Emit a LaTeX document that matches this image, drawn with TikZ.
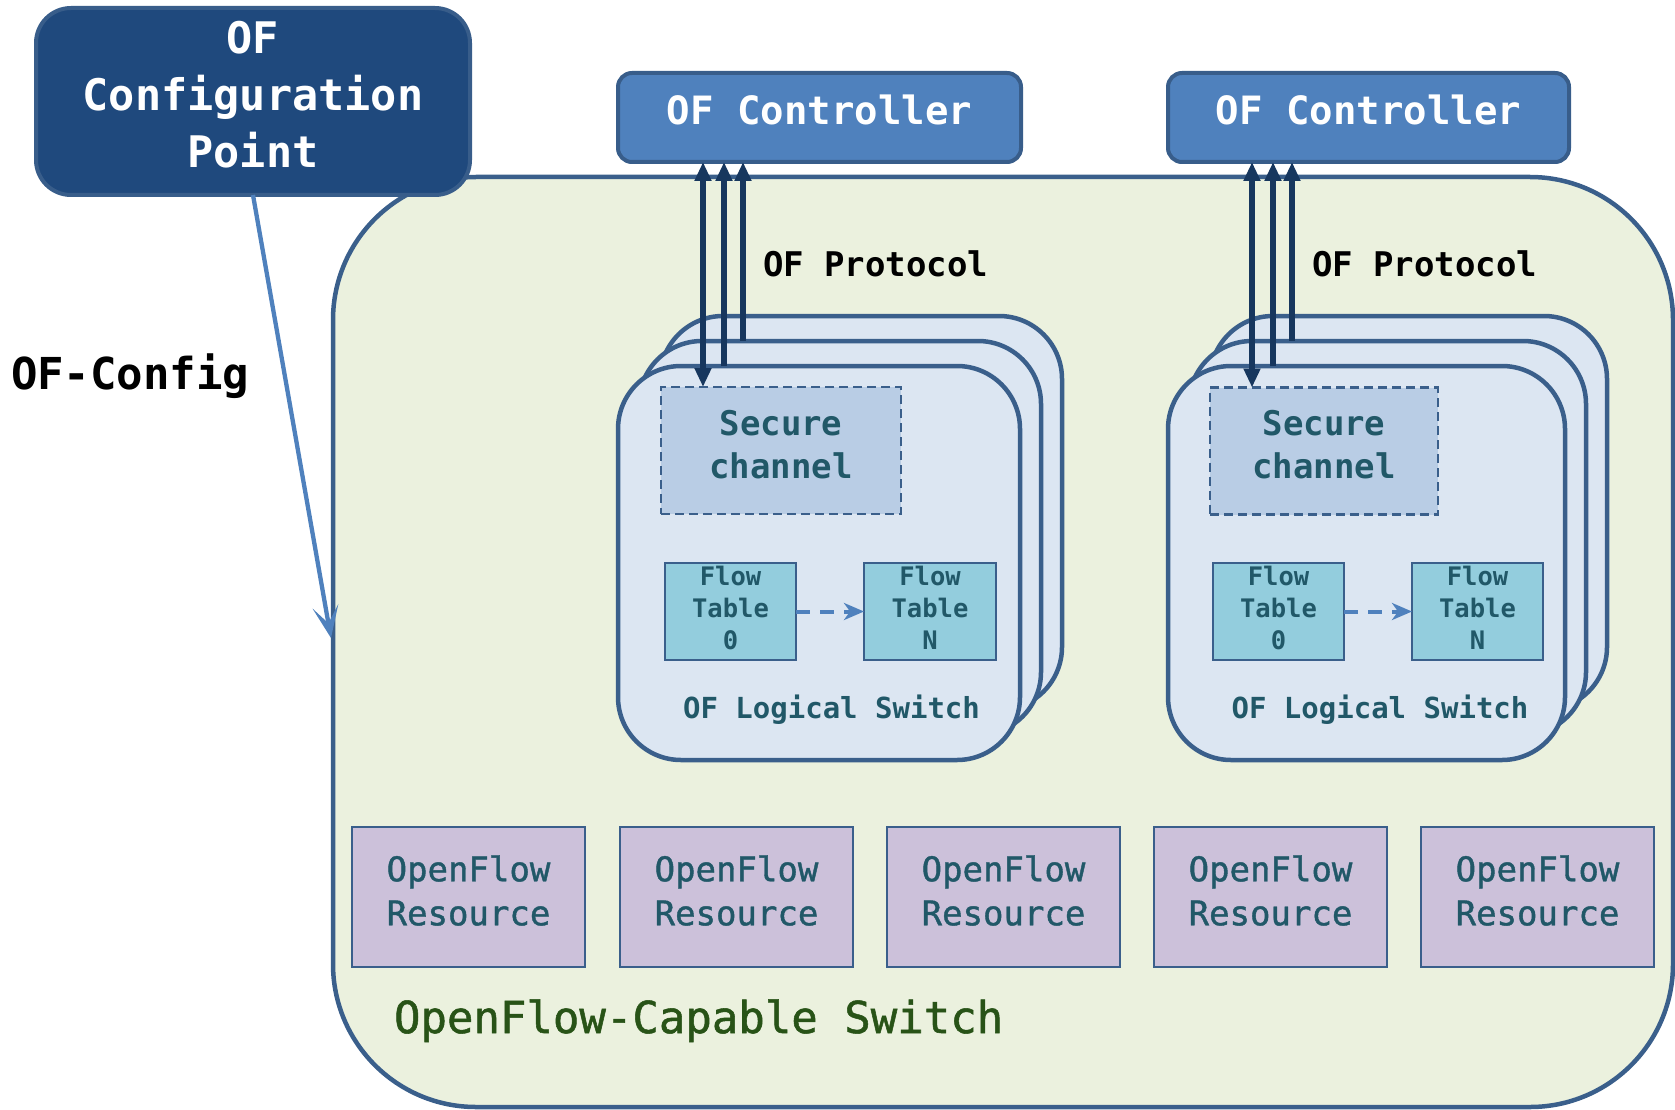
\documentclass[tikz,border=0pt]{standalone}
\usepackage{fontspec}
\usetikzlibrary{arrows.meta}
\newfontfamily\dvm{DejaVu Sans Mono}
\newfontfamily\dvmsemi[FakeBold=1.2]{DejaVu Sans Mono}

\definecolor{edge}{HTML}{3A5F8B}
\definecolor{cfgfill}{HTML}{1F497D}
\definecolor{cfgedge}{HTML}{385D8A}
\definecolor{ctrlfill}{HTML}{4F81BD}
\definecolor{swfill}{HTML}{EBF1DE}
\definecolor{lsfill}{HTML}{DCE6F2}
\definecolor{secfill}{HTML}{B9CDE5}
\definecolor{ftfill}{HTML}{93CDDD}
\definecolor{resfill}{HTML}{CCC1DA}
\definecolor{tealtext}{HTML}{215868}
\definecolor{navy}{HTML}{17375E}
\definecolor{lightblue}{HTML}{4F81BD}
\definecolor{greentext}{HTML}{285317}

\begin{document}
\begin{tikzpicture}[x=1pt,y=-1pt,
  shapebox/.style={rectangle, inner sep=0pt, outer sep=0pt},
  container/.style={shapebox, fill=swfill, draw=edge, line width=4.5pt,
    rounded corners=143pt, minimum width=1340pt, minimum height=930pt},
  cfgbox/.style={shapebox, fill=cfgfill, draw=cfgedge, line width=4pt,
    rounded corners=35pt, minimum width=434pt, minimum height=187pt},
  ctrlbox/.style={shapebox, fill=ctrlfill, draw=cfgedge, line width=4pt,
    rounded corners=14pt, minimum height=89pt},
  lsbox/.style={shapebox, fill=lsfill, draw=edge, line width=4.5pt,
    rounded corners=63pt, minimum height=394pt},
  secbox/.style={shapebox, fill=secfill, draw=edge, line width=2.5pt,
    dash pattern=on 9pt off 5pt, minimum height=127pt},
  ftbox/.style={shapebox, fill=ftfill, draw=edge, line width=2.5pt,
    minimum width=131pt, minimum height=97pt},
  resbox/.style={shapebox, fill=resfill, draw=edge, line width=2.5pt,
    minimum width=233pt, minimum height=140pt},
  txt/.style={inner sep=0pt, outer sep=0pt, align=center},
  cfgtext/.style={txt, text=white, font={\dvm\bfseries\fontsize{43.5pt}{57pt}\selectfont}},
  ctrltext/.style={txt, text=white, anchor=base, font={\dvm\bfseries\fontsize{39pt}{47pt}\selectfont}},
  prototext/.style={txt, text=black, anchor=base west, font={\dvm\bfseries\fontsize{34pt}{41pt}\selectfont}},
  bigblack/.style={txt, text=black, anchor=base west, font={\dvm\bfseries\fontsize{44pt}{53pt}\selectfont}},
  sectext/.style={txt, text=tealtext, font={\dvm\bfseries\fontsize{34pt}{43pt}\selectfont}},
  fttext/.style={txt, text=tealtext, font={\dvm\bfseries\fontsize{25.5pt}{32pt}\selectfont}},
  lstext/.style={txt, text=tealtext, anchor=base, font={\dvm\bfseries\fontsize{29pt}{35pt}\selectfont}},
  restext/.style={txt, text=tealtext, font={\dvmsemi\fontsize{34pt}{44pt}\selectfont}},
  swtext/.style={txt, text=greentext, anchor=base west, font={\dvmsemi\fontsize{44pt}{53pt}\selectfont}},
  proto/.style={draw=navy, line width=5.5pt},
  protohead/.tip={Triangle[length=19pt,width=16pt]},
  cfgarrow/.style={draw=lightblue, line width=4.3pt,
    -{Stealth[length=32pt,width=26pt,inset=17pt]}},
  ftarrow/.style={draw=lightblue, line width=4pt, dash pattern=on 14pt off 10pt,
    -{Stealth[length=20pt,width=17pt,inset=6pt]}}
]
\useasboundingbox (0,0) rectangle (1675,1110);

% OpenFlow-capable switch
\node[container] (sw) at (1003,642) {};

% Configuration point and controllers
\node[cfgbox] (cfg) at (253,101.5) {};
\node[cfgtext] (cfgt) at (253,94.2) {OF\\Configuration\\Point};

\node[ctrlbox, minimum width=403pt] (ctrlA) at (819.5,117.5) {};
\node[ctrltext] (ctrlAt) at (819.5,125) {OF Controller};
\node[ctrlbox, minimum width=401pt] (ctrlB) at (1368.5,117.5) {};
\node[ctrltext] (ctrlBt) at (1368.5,125) {OF Controller};

\node[prototext] (protoA) at (763,276) {OF Protocol};
\node[prototext] (protoB) at (1312,276) {OF Protocol};
\node[bigblack] (ofcfg) at (11,389) {OF-Config};

% Logical switch stack A (back to front)
\node[lsbox, minimum width=402pt] (lsA3) at (861,513) {};
\node[lsbox, minimum width=402pt] (lsA2) at (840,538) {};
\node[lsbox, minimum width=402pt] (lsA) at (819,563) {};
\node[secbox, minimum width=240pt] (secA) at (781,450.5) {};
\node[sectext] (secAt) at (781,445) {Secure\\channel};
\node[ftbox] (ftA0) at (730.5,611.5) {};
\node[fttext] (ftA0t) at (730.5,607.5) {Flow\\Table\\0};
\node[ftbox, minimum width=132pt] (ftAN) at (930,611.5) {};
\node[fttext] (ftANt) at (930,607.5) {Flow\\Table\\N};
\node[lstext] (lsAt) at (831.5,718) {OF Logical Switch};

% Logical switch stack B (back to front)
\node[lsbox, minimum width=397pt] (lsB3) at (1408.5,513) {};
\node[lsbox, minimum width=397pt] (lsB2) at (1387.5,538) {};
\node[lsbox, minimum width=397pt] (lsB) at (1366.5,563) {};
\node[secbox, minimum width=228pt] (secB) at (1324,451) {};
\node[sectext] (secBt) at (1324,445) {Secure\\channel};
\node[ftbox] (ftB0) at (1278.5,611.5) {};
\node[fttext] (ftB0t) at (1278.5,607.5) {Flow\\Table\\0};
\node[ftbox] (ftBN) at (1477.5,611.5) {};
\node[fttext] (ftBNt) at (1477.5,607.5) {Flow\\Table\\N};
\node[lstext] (lsBt) at (1380,718) {OF Logical Switch};

% OpenFlow resources
\foreach \x [count=\i] in {468.5,736.5,1003.5,1270.5,1537.5} {
  \node[resbox] (res\i) at (\x,897) {};
  \node[restext] (res\i t) at (\x,890.5) {OpenFlow\\Resource};
}
\node[swtext] (swt) at (394,1033) {OpenFlow-Capable Switch};

% Flow table pipelines
\draw[ftarrow] (ftA0.east) -- (ftAN.west);
\draw[ftarrow] (ftB0.east) -- (ftBN.west);

% OF protocol channels
\coordinate (a1) at (703,0);
\coordinate (a2) at (724,0);
\coordinate (a3) at (743,0);
\coordinate (b1) at (1252,0);
\coordinate (b2) at (1273,0);
\coordinate (b3) at (1292,0);
\draw[proto, protohead-protohead] (ctrlA.south -| a1) -- (secA.north -| a1);
\draw[proto, -protohead] (lsA.north -| a2) -- (ctrlA.south -| a2);
\draw[proto, -protohead] (lsA2.north -| a3) -- (ctrlA.south -| a3);
\draw[proto, protohead-protohead] (ctrlB.south -| b1) -- (secB.north -| b1);
\draw[proto, -protohead] (lsB.north -| b2) -- (ctrlB.south -| b2);
\draw[proto, -protohead] (lsB2.north -| b3) -- (ctrlB.south -| b3);

% OF-Config link
\coordinate (cfgtip) at (331,638);
\draw[cfgarrow] (cfg.south) -- (cfgtip);
\end{tikzpicture}
\end{document}
